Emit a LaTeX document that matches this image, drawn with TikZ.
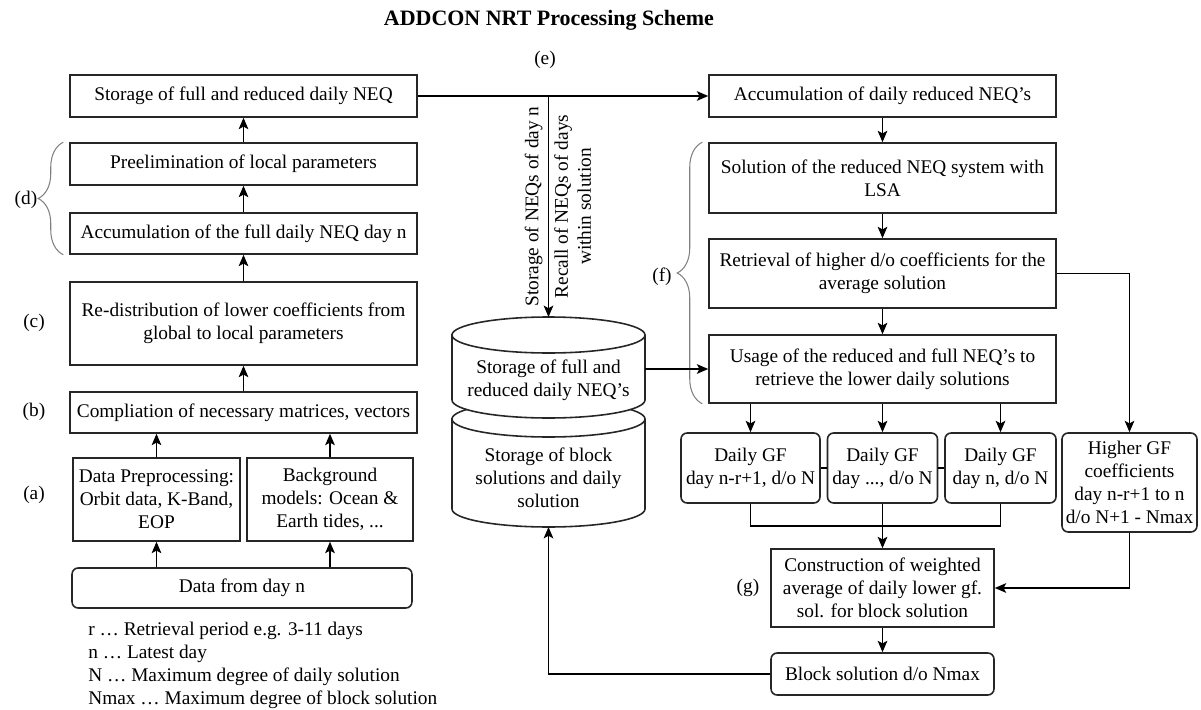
\documentclass[tikz,border=0pt]{standalone}
\usepackage{fontspec}
\setmainfont{Liberation Serif}
\usetikzlibrary{arrows.meta,decorations.pathreplacing}

\tikzset{
  blk/.style={draw=black!85, line width=0.9pt, fill=white, align=center, inner sep=2pt},
  rblk/.style={blk, rounded corners=3.5pt},
  arr/.style={-{Stealth[length=6.5pt,width=5.5pt,inset=1.5pt]}, line width=0.65pt},
  lnk/.style={line width=0.65pt},
  brc/.style={decorate, decoration={brace, amplitude=0.5cm}, draw=gray, line width=0.6pt},
  drum/.style={draw=black!85, line width=0.9pt, fill=white},
}

\begin{document}
\begin{tikzpicture}[x=0.02cm, y=-0.02cm, font=\fontsize{11}{13}\selectfont]
\useasboundingbox (0,0) rectangle (1201,710);

\node[font=\fontsize{12.5}{15}\selectfont\bfseries] (title) at (549,20) {ADDCON NRT Processing Scheme};

% left column, processing of one day
\node[blk, minimum width=6.94cm, minimum height=0.84cm] (stor) at (243.5,96) {Storage of full and reduced daily NEQ};
\node[blk, minimum width=6.94cm, minimum height=0.84cm] (prel) at (243.5,164) {Preelimination of local parameters};
\node[blk, minimum width=6.94cm, minimum height=0.82cm] (accfull) at (243.5,233.5) {Accumulation of the full daily NEQ day n};
\node[blk, minimum width=6.94cm, minimum height=1.66cm] (redist) at (243.5,323.5) {Re-distribution of lower coefficients from\\global to local parameters};
\node[blk, minimum width=6.94cm, minimum height=0.82cm] (compl) at (243.5,412.5) {Compliation of necessary matrices, vectors};
\node[blk, minimum width=3.34cm, minimum height=1.66cm] (prep) at (156.5,499.5) {Data Preprocessing:\\Orbit data, K-Band,\\EOP};
\node[blk, minimum width=3.32cm, minimum height=1.66cm] (bgm) at (330,499.5) {Background\\models: Ocean \&\\Earth tides, ...};
\node[rblk, minimum width=6.8cm, minimum height=0.8cm] (data) at (242,588) {Data from day n};

\node (lbla) at (34,495) {(a)};
\node (lblb) at (34,412) {(b)};
\node (lblc) at (34,323) {(c)};
\node (lbld) at (26,200) {(d)};
\draw[brc] ([xshift=-0.12cm]accfull.south west) -- ([xshift=-0.12cm]prel.north west);

\node[anchor=north west, inner sep=0, align=left] (legend) at (88,622) {r … Retrieval period e.g. 3-11 days\\n … Latest day\\N … Maximum degree of daily solution\\Nmax … Maximum degree of block solution};

\draw[arr] (data.north -| prep) -- (prep);
\draw[arr] (data.north -| bgm) -- (bgm);
\draw[arr] (prep) -- (prep |- compl.south);
\draw[arr] (bgm) -- (bgm |- compl.south);
\draw[arr] (compl) -- (redist);
\draw[arr] (redist) -- (accfull);
\draw[arr] (accfull) -- (prel);
\draw[arr] (prel) -- (stor);

% storage drums
\draw[drum] (452,419) -- (452,509) arc[start angle=180, end angle=0, x radius=96.5, y radius=18]
  -- (645,419) arc[start angle=0, end angle=-180, x radius=96.5, y radius=18] -- cycle;
\draw[drum] (452,419) arc[start angle=180, end angle=0, x radius=96.5, y radius=18];
\draw[drum] (452,335) -- (452,400) arc[start angle=180, end angle=0, x radius=96.5, y radius=18]
  -- (645,335) arc[start angle=0, end angle=-180, x radius=96.5, y radius=18] -- cycle;
\draw[drum] (452,335) arc[start angle=180, end angle=0, x radius=96.5, y radius=18];
\node[align=center] (dbtop) at (548.5,380) {Storage of full and\\reduced daily NEQ's};
\node[align=center] (dbbot) at (548.5,478) {Storage of block\\solutions and daily\\solution};
\coordinate (dbin) at (548.5,317);
\coordinate (dbside) at (645,369);
\coordinate (dbout) at (548.5,527);

% right column, combination of the days
\node[blk, minimum width=6.94cm, minimum height=0.84cm] (accred) at (882.5,96) {Accumulation of daily reduced NEQ's};
\node[blk, minimum width=6.94cm, minimum height=1.4cm] (solve) at (882.5,178) {Solution of the reduced NEQ system with\\LSA};
\node[blk, minimum width=6.94cm, minimum height=1.38cm] (retr) at (882.5,273.5) {Retrieval of higher d/o coefficients for the\\average solution};
\node[blk, minimum width=6.94cm, minimum height=1.36cm] (usage) at (882.5,369) {Usage of the reduced and full NEQ's to\\retrieve the lower daily solutions};
\node[rblk, minimum width=2.78cm, minimum height=1.4cm] (gfa) at (750.5,468) {Daily GF\\day n-r+1, d/o N};
\node[rblk, minimum width=2.2cm, minimum height=1.4cm] (gfb) at (882.5,468) {Daily GF\\day ..., d/o N};
\node[rblk, minimum width=2.22cm, minimum height=1.4cm] (gfc) at (1000.5,468) {Daily GF\\day n, d/o N};
\node[rblk, minimum width=2.7cm, minimum height=1.98cm] (hgf) at (1129.5,482.5) {Higher GF\\coefficients\\day n-r+1 to n\\d/o N+1 - Nmax};
\node[blk, minimum width=4.46cm, minimum height=1.56cm] (constr) at (882.5,588) {Construction of weighted\\average of daily lower gf.\\sol. for block solution};
\node[rblk, minimum width=4.46cm, minimum height=0.84cm] (block) at (882.5,674) {Block solution d/o Nmax};
\coordinate (merge) at (882.5,526);

\node (lble) at (545,60) {(e)};
\node (lblf) at (662,277) {(f)};
\node (lblg) at (748,588) {(g)};
\draw[brc] ([xshift=-0.12cm]usage.south west) -- ([xshift=-0.12cm]solve.north west);

\coordinate (split) at (548.5,96);
\draw[arr] (stor) -- (accred);
\draw[arr] (split) -- (dbin)
  node[midway, rotate=90, anchor=south, inner sep=3pt] {Storage of NEQs of day n}
  node[midway, rotate=90, anchor=north, inner sep=3pt, align=center] {Recall of NEQs of days\\within solution};
\draw[arr] (accred) -- (solve);
\draw[arr] (solve) -- (retr);
\draw[arr] (retr) -- (usage);
\draw[arr] (dbside) -- (usage);
\draw[arr] (usage.south -| gfa) -- (gfa);
\draw[arr] (usage.south -| gfb) -- (gfb);
\draw[arr] (usage.south -| gfc) -- (gfc);
\draw[lnk] (gfa) -- (gfb);
\draw[lnk] (gfb) -- (gfc);
\draw[arr] (retr.east) -| (hgf.north);
\draw[lnk] (gfa.south) |- (merge) -| (gfc.south);
\draw[arr] (gfb) -- (constr);
\draw[arr] (hgf.south) |- (constr.east);
\draw[arr] (constr) -- (block);
\draw[arr] (block.west) -| (dbout);
\end{tikzpicture}
\end{document}
